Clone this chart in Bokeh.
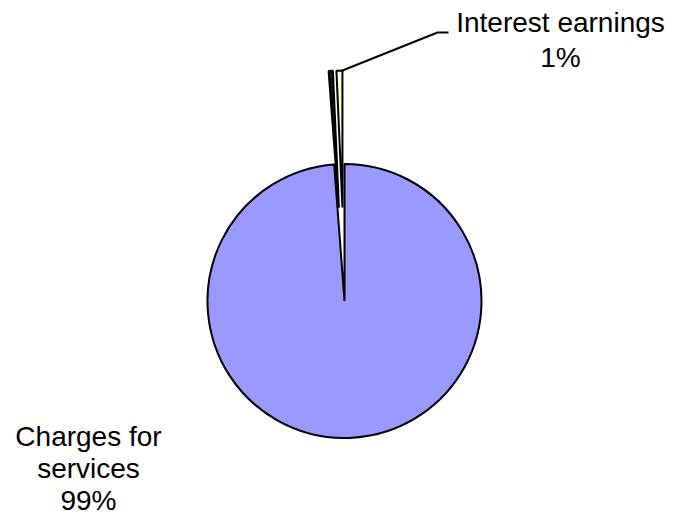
import numpy as np
from bokeh.plotting import figure
from bokeh.models import Range1d, ColumnDataSource
from bokeh.core.properties import value
from bokeh.embed import file_html
from bokeh.resources import INLINE

# ---- data ----
categories = ["Charges for services", "Other", "Interest earnings"]
shares = [98.8, 0.5, 0.7]
colors = ["#9999FF", "#141414", "#FFFFCC"]
exploded = [0, 1, 1]
label_lines = [["Charges for", "services"], [], ["Interest earnings"]]

# ---- layout ----
W, H = 673, 515
cx, cy = 344, H - 300.5
R = 137
EXPLODE = 93.5
FONT = "Liberation Sans"
FS = "28px"
BASELINE_FIX = 10  # renderer places alphabetic baseline lower than requested

p = figure(width=W, height=H, x_range=Range1d(0, W), y_range=Range1d(0, H),
           output_backend="svg", toolbar_location=None, min_border=0,
           x_axis_location=None, y_axis_location=None)
p.grid.visible = False
p.outline_line_color = None
p.background_fill_color = "white"
p.border_fill_color = "white"

s = np.array(shares, dtype=float)
frac = s / s.sum()
cum = np.cumsum(frac)
start = np.radians(90 - (cum - frac) * 360)
end = np.radians(90 - cum * 360)
mid = (start + end) / 2
ox = EXPLODE * np.array(exploded) * np.cos(mid)
oy = EXPLODE * np.array(exploded) * np.sin(mid)

src = ColumnDataSource(dict(x=cx + ox, y=cy + oy, start=start, end=end, color=colors,
                            cat=categories))
p.wedge(x="x", y="y", radius=R, start_angle="start", end_angle="end",
        direction="clock", fill_color="color", line_color="black", line_width=2,
        source=src)

pct = [f"{round(v / s.sum() * 100):.0f}%" for v in s]

def draw_label(i, xc, first_baseline, spacing):
    lines = label_lines[i] + [pct[i]]
    ys = [H - (first_baseline - BASELINE_FIX + k * spacing) for k in range(len(lines))]
    p.text(x=[xc] * len(lines), y=ys, text=lines, text_align="center",
           text_baseline="alphabetic", text_font=value(FONT), text_font_size=FS,
           text_color="black")

# Interest earnings label with leader line
i = 2
lx0 = cx + ox[i] + R * np.cos(end[i])
ly0 = cy + oy[i] + R * np.sin(end[i])
elbow_x, elbow_y = 437, H - 32
p.line([lx0, elbow_x, elbow_x + 11], [ly0, elbow_y, elbow_y], line_color="black", line_width=2)
draw_label(2, 560, 32, 34.8)

# Charges label
draw_label(0, 88, 445.5, 32.3)

open("out.html", "w").write(file_html(p, INLINE))
